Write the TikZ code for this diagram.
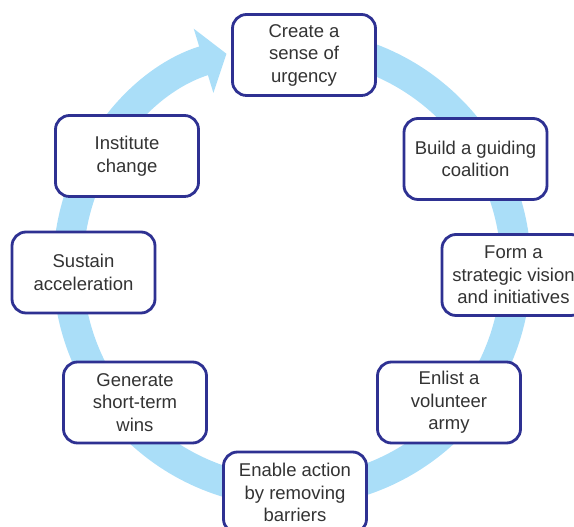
\documentclass[tikz,border=0pt]{standalone}
\usepackage{fontspec}
\setmainfont{Liberation Sans}
\usetikzlibrary{arrows.meta}
\definecolor{ringblue}{RGB}{170,222,248}
\definecolor{boxnavy}{RGB}{46,49,146}
\definecolor{textgray}{RGB}{51,51,51}
\begin{document}
\begin{tikzpicture}
[x=1pt, y=1pt,
ring/.style={ringblue, line width = 30pt},
stage/.style={draw=boxnavy, fill=white, line width = 2.8pt, rounded corners = 14pt, minimum width = 143pt, minimum height = 81pt, inner sep = 0pt, align=center, text=textgray, font=\fontsize{18.5}{22.5}\selectfont}]
\useasboundingbox (0,0) rectangle (574,527);
\clip (0,0) rectangle (574,527);
\draw[ring, -{Triangle[length=24pt, width=66pt]}] (292,259) ++(85:224) arc[start angle=85, end angle=-253, radius=224];
\node[stage] (urgency) at (304,472) {Create a\\sense of\\urgency};
\node[stage] (coalition) at (475.5,368) {Build a guiding\\coalition};
\node[stage] (vision) at (513.5,252) {Form a\\strategic vision\\and initiatives};
\node[stage] (army) at (449,124.5) {Enlist a\\volunteer\\army};
\node[stage] (barriers) at (295,34.5) {Enable action\\by removing\\barriers};
\node[stage] (wins) at (135,124.5) {Generate\\short-term\\wins};
\node[stage] (acceleration) at (83.5,254.5) {Sustain\\acceleration};
\node[stage] (change) at (127,371) {Institute\\change};
\end{tikzpicture}
\end{document}
